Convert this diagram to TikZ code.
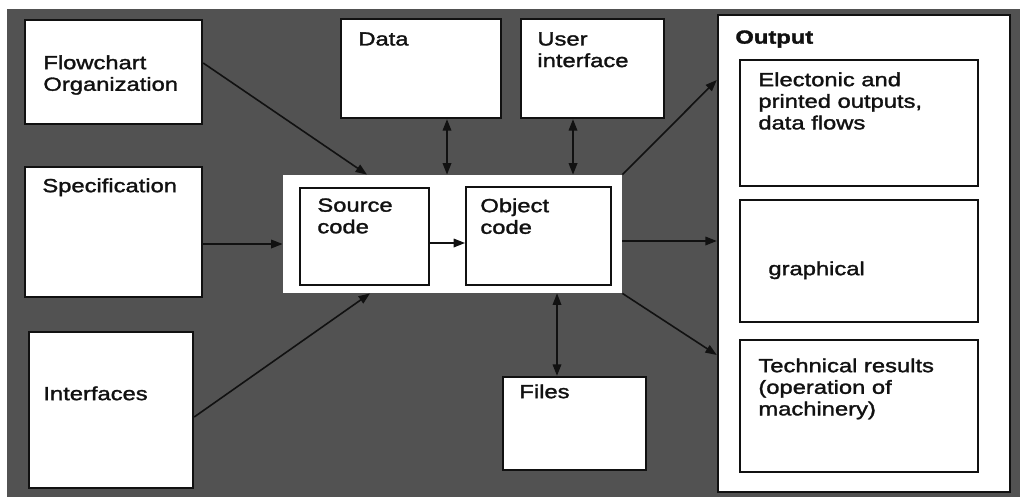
\documentclass[tikz,border=0pt]{standalone}
\usepackage{fontspec}
\setmainfont[FakeStretch=1.25,FakeBold=1.6]{Liberation Sans}
\usetikzlibrary{arrows.meta,positioning,fit,calc}
\definecolor{scInk}{HTML}{111111}
\definecolor{scGround}{HTML}{525252}
\tikzset{
  panel/.style ={draw=scInk,line width=1.2pt,fill=white,inner sep=0pt},
  subbox/.style={draw=scInk,line width=0.9pt,fill=white,inner sep=0pt},
  plate/.style ={fill=white,inner sep=0pt},
  lbl/.style   ={font=\fontsize{9.5}{10.8}\selectfont,text=scInk,align=left,
                 inner sep=0pt,anchor=north west},
  hlbl/.style  ={lbl,font=\fontsize{9.5}{10.8}\selectfont\bfseries},
  flow/.style  ={->,>={Triangle[length=2mm,width=1.5mm]},scInk,line width=0.8pt},
  both/.style  ={flow,<->},
}

\begin{document}
\begin{tikzpicture}[x=0.5pt,y=-0.5pt]
\useasboundingbox (0,0) rectangle (1020,497);
% printed ground
\fill[scGround] (7,9) rectangle (1020,497);

\foreach \n/\xa/\ya/\xb/\yb in {fc/25/20/202/124, spec/25/167/202/297, itf/29/332/193/488,
                                data/341/19/501/118, ui/521/19/664/118, files/503/377/646/470}
  \node[panel,fit={(\xa,\ya) (\xb,\yb)}] (\n) {};

% compiler block
\node[plate,fit={(283,175) (622,293)}] (ctr) {};
\node[subbox,fit={(300,188) (429,285)}] (src) {};
\node[subbox,fit={(466,187) (611,285)}] (obj) {};

% output column
\node[panel,fit={(718,15) (1010,492)}] (out) {};
\foreach \n/\ya/\yb in {elec/60/186, graph/200/322, tech/340/472}
  \node[subbox,fit={(740,\ya) (978,\yb)}] (\n) {};

\node[lbl] (fc-t)    at (43,55)   {Flowchart\\Organization};
\node[lbl] (spec-t)  at (42,178)  {Specification};
\node[lbl] (itf-t)   at (43,386)  {Interfaces};
\node[lbl] (data-t)  at (358,32)  {Data};
\node[lbl] (ui-t)    at (537,32)  {User\\interface};
\node[lbl] (src-t)   at (317,198) {Source\\code};
\node[lbl] (obj-t)   at (480,198) {Object\\code};
\node[lbl] (files-t) at (519,384) {Files};
\node[hlbl] (out-t)  at (735,30)  {Output};
\node[lbl] (elec-t)  at (758,72)  {Electonic and\\printed outputs,\\data flows};
\node[lbl] (graph-t) at (768,261) {graphical};
\node[lbl] (tech-t)  at (758,358) {Technical results\\(operation of\\machinery)};

% inputs
\draw[flow] (fc.east |- 0,63) -- (ctr.north -| 367,0);
\draw[flow] (spec.east |- 0,244) -- (ctr.west |- 0,244);
\draw[flow] (itf.east |- 0,417) -- (ctr.south -| 370,0);
\draw[both] (data.south -| 447,0) -- (ctr.north -| 447,0);
\draw[both] (ui.south -| 573,0) -- (ctr.north -| 573,0);
\draw[both] (ctr.south -| 557,0) -- (files.north -| 557,0);
\draw[flow] (src.east |- 0,243) -- (obj.west |- 0,243);
% outputs
\draw[flow] (ctr.north east) -- (out.west |- 0,80);
\draw[flow] (ctr.east |- 0,241) -- (out.west |- 0,241);
\draw[flow] (ctr.south east) -- (out.west |- 0,355);
\end{tikzpicture}
\end{document}
